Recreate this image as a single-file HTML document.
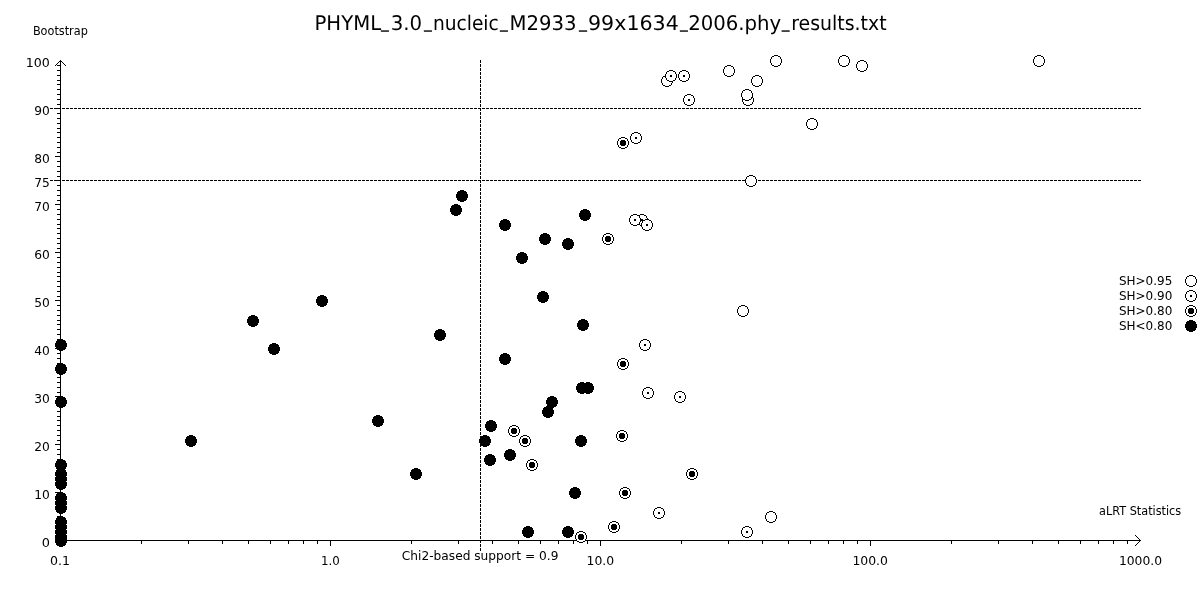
<!DOCTYPE html>
<html lang="en"><head><meta charset="utf-8"><title>PHYML bootstrap vs aLRT</title>
<style>html,body{margin:0;padding:0;background:#fff;}body{width:1200px;height:600px;overflow:hidden;}svg{display:block;filter:grayscale(1);}text{font-family:"DejaVu Sans","Liberation Sans",sans-serif;fill:#000;}</style></head><body>
<svg width="1200" height="600" viewBox="0 0 1200 600">
<rect x="0" y="0" width="1200" height="600" fill="#fff"/>
<g shape-rendering="crispEdges" stroke="#000" stroke-width="1" fill="none">
<line x1="50" y1="108.5" x2="1141" y2="108.5" stroke-dasharray="3 1"/>
<line x1="50" y1="180.5" x2="1141" y2="180.5" stroke-dasharray="3 1"/>
<line x1="480.5" y1="60" x2="480.5" y2="551" stroke-dasharray="3 1"/>
<line x1="60.5" y1="60" x2="60.5" y2="541"/>
<line x1="60" y1="540.5" x2="1141" y2="540.5"/>
<path d="M57 536.5H60M57 531.5H60M57 526.5H60M57 521.5H60M57 516.5H60M57 512.5H60M57 507.5H60M57 502.5H60M57 497.5H60M55 492.5H60M57 488.5H60M57 483.5H60M57 478.5H60M57 473.5H60M57 468.5H60M57 464.5H60M57 459.5H60M57 454.5H60M57 449.5H60M55 444.5H60M57 440.5H60M57 435.5H60M57 430.5H60M57 425.5H60M57 420.5H60M57 416.5H60M57 411.5H60M57 406.5H60M57 401.5H60M55 396.5H60M57 392.5H60M57 387.5H60M57 382.5H60M57 377.5H60M57 372.5H60M57 368.5H60M57 363.5H60M57 358.5H60M57 353.5H60M55 348.5H60M57 344.5H60M57 339.5H60M57 334.5H60M57 329.5H60M57 324.5H60M57 320.5H60M57 315.5H60M57 310.5H60M57 305.5H60M55 300.5H60M57 296.5H60M57 291.5H60M57 286.5H60M57 281.5H60M57 276.5H60M57 272.5H60M57 267.5H60M57 262.5H60M57 257.5H60M55 252.5H60M57 248.5H60M57 243.5H60M57 238.5H60M57 233.5H60M57 228.5H60M57 224.5H60M57 219.5H60M57 214.5H60M57 209.5H60M55 204.5H60M57 200.5H60M57 195.5H60M57 190.5H60M57 185.5H60M55 180.5H60M57 176.5H60M57 171.5H60M57 166.5H60M57 161.5H60M55 156.5H60M57 152.5H60M57 147.5H60M57 142.5H60M57 137.5H60M57 132.5H60M57 128.5H60M57 123.5H60M57 118.5H60M57 113.5H60M55 108.5H60M57 104.5H60M57 99.5H60M57 94.5H60M57 89.5H60M57 84.5H60M57 80.5H60M57 75.5H60M57 70.5H60M57 65.5H60"/>
<path d="M60.5 541V546M141.5 541V544M188.5 541V544M222.5 541V544M248.5 541V544M270.5 541V544M288.5 541V544M303.5 541V544M317.5 541V544M330.5 541V546M411.5 541V544M458.5 541V544M492.5 541V544M518.5 541V544M540.5 541V544M558.5 541V544M573.5 541V544M587.5 541V544M600.5 541V546M681.5 541V544M728.5 541V544M762.5 541V544M788.5 541V544M810.5 541V544M828.5 541V544M843.5 541V544M857.5 541V544M870.5 541V546M951.5 541V544M998.5 541V544M1032.5 541V544M1058.5 541V544M1080.5 541V544M1098.5 541V544M1113.5 541V544M1127.5 541V544"/>
</g>
<g stroke="#000" stroke-width="1" fill="none" stroke-linecap="square" shape-rendering="crispEdges">
<path d="M55.5 65.5L60.5 60.5L65.5 65.5"/>
<path d="M1135.5 535.5L1140.5 540.5L1135.5 545.5"/>
</g>
<text font-size="20.2" y="30" text-rendering="geometricPrecision"><tspan x="314.5" y="30" textLength="66.6" lengthAdjust="spacingAndGlyphs">PHYML</tspan><tspan x="381.0" y="26.6" textLength="7.8" lengthAdjust="spacingAndGlyphs">_</tspan><tspan x="390.7" y="30" textLength="31.4" lengthAdjust="spacingAndGlyphs">3.0</tspan><tspan x="424.0" y="26.6" textLength="7.8" lengthAdjust="spacingAndGlyphs">_</tspan><tspan x="432.9" y="30" textLength="65.9" lengthAdjust="spacingAndGlyphs">nucleic</tspan><tspan x="499.9" y="26.6" textLength="7.8" lengthAdjust="spacingAndGlyphs">_</tspan><tspan x="509.5" y="30" textLength="67.0" lengthAdjust="spacingAndGlyphs">M2933</tspan><tspan x="579.0" y="26.6" textLength="8.0" lengthAdjust="spacingAndGlyphs">_</tspan><tspan x="588.0" y="30" textLength="90.8" lengthAdjust="spacingAndGlyphs">99x1634</tspan><tspan x="679.9" y="26.6" textLength="7.8" lengthAdjust="spacingAndGlyphs">_</tspan><tspan x="688.2" y="30" textLength="93.1" lengthAdjust="spacingAndGlyphs">2006.phy</tspan><tspan x="781.8" y="26.6" textLength="7.8" lengthAdjust="spacingAndGlyphs">_</tspan><tspan x="791.2" y="30" textLength="95.4" lengthAdjust="spacingAndGlyphs">results.txt</tspan></text>
<text x="32.90" y="35" font-size="12" textLength="54.90" lengthAdjust="spacingAndGlyphs">Bootstrap</text>
<text x="1099.00" y="515" font-size="12" textLength="82.20" lengthAdjust="spacingAndGlyphs">aLRT Statistics</text>
<text x="1118.95" y="285" font-size="12" textLength="53.35" lengthAdjust="spacingAndGlyphs">SH&gt;0.95</text>
<text x="1118.95" y="300" font-size="12" textLength="53.35" lengthAdjust="spacingAndGlyphs">SH&gt;0.90</text>
<text x="1118.95" y="315" font-size="12" textLength="53.35" lengthAdjust="spacingAndGlyphs">SH&gt;0.80</text>
<text x="1118.95" y="330" font-size="12" textLength="53.35" lengthAdjust="spacingAndGlyphs">SH&lt;0.80</text>
<text x="401.80" y="560" font-size="12" textLength="156.60" lengthAdjust="spacingAndGlyphs">Chi2-based support = 0.9</text>
<text x="50.00" y="565" font-size="12" textLength="20.00" lengthAdjust="spacingAndGlyphs">0.1</text>
<text x="321.10" y="565" font-size="12" textLength="18.80" lengthAdjust="spacingAndGlyphs">1.0</text>
<text x="586.60" y="565" font-size="12" textLength="27.60" lengthAdjust="spacingAndGlyphs">10.0</text>
<text x="852.40" y="565" font-size="12" textLength="35.60" lengthAdjust="spacingAndGlyphs">100.0</text>
<text x="1118.90" y="565" font-size="12" textLength="43.20" lengthAdjust="spacingAndGlyphs">1000.0</text>
<text x="41.70" y="547" font-size="12" textLength="8.20" lengthAdjust="spacingAndGlyphs">0</text>
<text x="34.30" y="499" font-size="12" textLength="15.60" lengthAdjust="spacingAndGlyphs">10</text>
<text x="34.30" y="451" font-size="12" textLength="15.60" lengthAdjust="spacingAndGlyphs">20</text>
<text x="34.30" y="403" font-size="12" textLength="15.60" lengthAdjust="spacingAndGlyphs">30</text>
<text x="34.30" y="355" font-size="12" textLength="15.60" lengthAdjust="spacingAndGlyphs">40</text>
<text x="34.30" y="307" font-size="12" textLength="15.60" lengthAdjust="spacingAndGlyphs">50</text>
<text x="34.30" y="259" font-size="12" textLength="15.60" lengthAdjust="spacingAndGlyphs">60</text>
<text x="34.30" y="211" font-size="12" textLength="15.60" lengthAdjust="spacingAndGlyphs">70</text>
<text x="34.30" y="187" font-size="12" textLength="15.60" lengthAdjust="spacingAndGlyphs">75</text>
<text x="34.30" y="163" font-size="12" textLength="15.60" lengthAdjust="spacingAndGlyphs">80</text>
<text x="34.30" y="115" font-size="12" textLength="15.60" lengthAdjust="spacingAndGlyphs">90</text>
<text x="25.80" y="67" font-size="12" textLength="24.10" lengthAdjust="spacingAndGlyphs">100</text>
<g shape-rendering="crispEdges">
<circle cx="61" cy="345" r="6" fill="#000"/>
<circle cx="61" cy="369" r="6" fill="#000"/>
<circle cx="61" cy="402" r="6" fill="#000"/>
<circle cx="61" cy="465" r="6" fill="#000"/>
<circle cx="61" cy="474" r="6" fill="#000"/>
<circle cx="61" cy="479" r="6" fill="#000"/>
<circle cx="61" cy="484" r="6" fill="#000"/>
<circle cx="61" cy="498" r="6" fill="#000"/>
<circle cx="61" cy="503" r="6" fill="#000"/>
<circle cx="61" cy="508" r="6" fill="#000"/>
<circle cx="61" cy="522" r="6" fill="#000"/>
<circle cx="61" cy="527" r="6" fill="#000"/>
<circle cx="61" cy="532" r="6" fill="#000"/>
<circle cx="61" cy="537" r="6" fill="#000"/>
<circle cx="61" cy="541" r="6" fill="#000"/>
<circle cx="322" cy="301" r="6" fill="#000"/>
<circle cx="253" cy="321" r="6" fill="#000"/>
<circle cx="274" cy="349" r="6" fill="#000"/>
<circle cx="191" cy="441" r="6" fill="#000"/>
<circle cx="462" cy="196" r="6" fill="#000"/>
<circle cx="456" cy="210" r="6" fill="#000"/>
<circle cx="505" cy="225" r="6" fill="#000"/>
<circle cx="522" cy="258" r="6" fill="#000"/>
<circle cx="545" cy="239" r="6" fill="#000"/>
<circle cx="568" cy="244" r="6" fill="#000"/>
<circle cx="585" cy="215" r="6" fill="#000"/>
<circle cx="543" cy="297" r="6" fill="#000"/>
<circle cx="583" cy="325" r="6" fill="#000"/>
<circle cx="440" cy="335" r="6" fill="#000"/>
<circle cx="505" cy="359" r="6" fill="#000"/>
<circle cx="582" cy="388" r="6" fill="#000"/>
<circle cx="588" cy="388" r="6" fill="#000"/>
<circle cx="552" cy="402" r="6" fill="#000"/>
<circle cx="378" cy="421" r="6" fill="#000"/>
<circle cx="416" cy="474" r="6" fill="#000"/>
<circle cx="548" cy="412" r="6" fill="#000"/>
<circle cx="491" cy="426" r="6" fill="#000"/>
<circle cx="485" cy="441" r="6" fill="#000"/>
<circle cx="490" cy="460" r="6" fill="#000"/>
<circle cx="510" cy="455" r="6" fill="#000"/>
<circle cx="514" cy="431" r="5.5" fill="#fff" stroke="#000" stroke-width="1"/>
<circle cx="514" cy="431" r="3" fill="#000"/>
<circle cx="525" cy="441" r="5.5" fill="#fff" stroke="#000" stroke-width="1"/>
<circle cx="525" cy="441" r="3" fill="#000"/>
<circle cx="532" cy="465" r="5.5" fill="#fff" stroke="#000" stroke-width="1"/>
<circle cx="532" cy="465" r="3" fill="#000"/>
<circle cx="581" cy="441" r="6" fill="#000"/>
<circle cx="575" cy="493" r="6" fill="#000"/>
<circle cx="528" cy="532" r="6" fill="#000"/>
<circle cx="568" cy="532" r="6" fill="#000"/>
<circle cx="581" cy="537" r="5.5" fill="#fff" stroke="#000" stroke-width="1"/>
<circle cx="581" cy="537" r="3" fill="#000"/>
<circle cx="623" cy="143" r="5.5" fill="#fff" stroke="#000" stroke-width="1"/>
<circle cx="623" cy="143" r="3" fill="#000"/>
<circle cx="636" cy="138" r="5.5" fill="#fff" stroke="#000" stroke-width="1"/>
<circle cx="636" cy="138" r="0.9" fill="#000"/>
<circle cx="667" cy="81" r="5.5" fill="#fff" stroke="#000" stroke-width="1"/>
<circle cx="671" cy="76" r="5.5" fill="#fff" stroke="#000" stroke-width="1"/>
<circle cx="671" cy="76" r="0.9" fill="#000"/>
<circle cx="684" cy="76" r="5.5" fill="#fff" stroke="#000" stroke-width="1"/>
<circle cx="684" cy="76" r="0.9" fill="#000"/>
<circle cx="689" cy="100" r="5.5" fill="#fff" stroke="#000" stroke-width="1"/>
<circle cx="689" cy="100" r="0.9" fill="#000"/>
<circle cx="729" cy="71" r="5.5" fill="#fff" stroke="#000" stroke-width="1"/>
<circle cx="757" cy="81" r="5.5" fill="#fff" stroke="#000" stroke-width="1"/>
<circle cx="748" cy="100" r="5.5" fill="#fff" stroke="#000" stroke-width="1"/>
<circle cx="747" cy="95" r="5.5" fill="#fff" stroke="#000" stroke-width="1"/>
<circle cx="776" cy="61" r="5.5" fill="#fff" stroke="#000" stroke-width="1"/>
<circle cx="812" cy="124" r="5.5" fill="#fff" stroke="#000" stroke-width="1"/>
<circle cx="844" cy="61" r="5.5" fill="#fff" stroke="#000" stroke-width="1"/>
<circle cx="862" cy="66" r="5.5" fill="#fff" stroke="#000" stroke-width="1"/>
<circle cx="1039" cy="61" r="5.5" fill="#fff" stroke="#000" stroke-width="1"/>
<circle cx="751" cy="181" r="5.5" fill="#fff" stroke="#000" stroke-width="1"/>
<circle cx="608" cy="239" r="5.5" fill="#fff" stroke="#000" stroke-width="1"/>
<circle cx="608" cy="239" r="3" fill="#000"/>
<circle cx="642" cy="220" r="5.5" fill="#fff" stroke="#000" stroke-width="1"/>
<circle cx="642" cy="220" r="0.9" fill="#000"/>
<circle cx="635" cy="220" r="5.5" fill="#fff" stroke="#000" stroke-width="1"/>
<circle cx="635" cy="220" r="0.9" fill="#000"/>
<circle cx="647" cy="225" r="5.5" fill="#fff" stroke="#000" stroke-width="1"/>
<circle cx="647" cy="225" r="0.9" fill="#000"/>
<circle cx="743" cy="311" r="5.5" fill="#fff" stroke="#000" stroke-width="1"/>
<circle cx="645" cy="345" r="5.5" fill="#fff" stroke="#000" stroke-width="1"/>
<circle cx="645" cy="345" r="0.9" fill="#000"/>
<circle cx="623" cy="364" r="5.5" fill="#fff" stroke="#000" stroke-width="1"/>
<circle cx="623" cy="364" r="3" fill="#000"/>
<circle cx="648" cy="393" r="5.5" fill="#fff" stroke="#000" stroke-width="1"/>
<circle cx="648" cy="393" r="0.9" fill="#000"/>
<circle cx="680" cy="397" r="5.5" fill="#fff" stroke="#000" stroke-width="1"/>
<circle cx="680" cy="397" r="0.9" fill="#000"/>
<circle cx="622" cy="436" r="5.5" fill="#fff" stroke="#000" stroke-width="1"/>
<circle cx="622" cy="436" r="3" fill="#000"/>
<circle cx="692" cy="474" r="5.5" fill="#fff" stroke="#000" stroke-width="1"/>
<circle cx="692" cy="474" r="3" fill="#000"/>
<circle cx="625" cy="493" r="5.5" fill="#fff" stroke="#000" stroke-width="1"/>
<circle cx="625" cy="493" r="3" fill="#000"/>
<circle cx="614" cy="527" r="5.5" fill="#fff" stroke="#000" stroke-width="1"/>
<circle cx="614" cy="527" r="3" fill="#000"/>
<circle cx="659" cy="513" r="5.5" fill="#fff" stroke="#000" stroke-width="1"/>
<circle cx="659" cy="513" r="0.9" fill="#000"/>
<circle cx="747" cy="532" r="5.5" fill="#fff" stroke="#000" stroke-width="1"/>
<circle cx="747" cy="532" r="0.9" fill="#000"/>
<circle cx="771" cy="517" r="5.5" fill="#fff" stroke="#000" stroke-width="1"/>
<circle cx="1191" cy="281" r="5.5" fill="#fff" stroke="#000" stroke-width="1"/>
<circle cx="1191" cy="296" r="5.5" fill="#fff" stroke="#000" stroke-width="1"/>
<circle cx="1191" cy="296" r="0.9" fill="#000"/>
<circle cx="1191" cy="311" r="5.5" fill="#fff" stroke="#000" stroke-width="1"/>
<circle cx="1191" cy="311" r="3" fill="#000"/>
<circle cx="1191" cy="326" r="6" fill="#000"/>
</g>
</svg></body></html>
